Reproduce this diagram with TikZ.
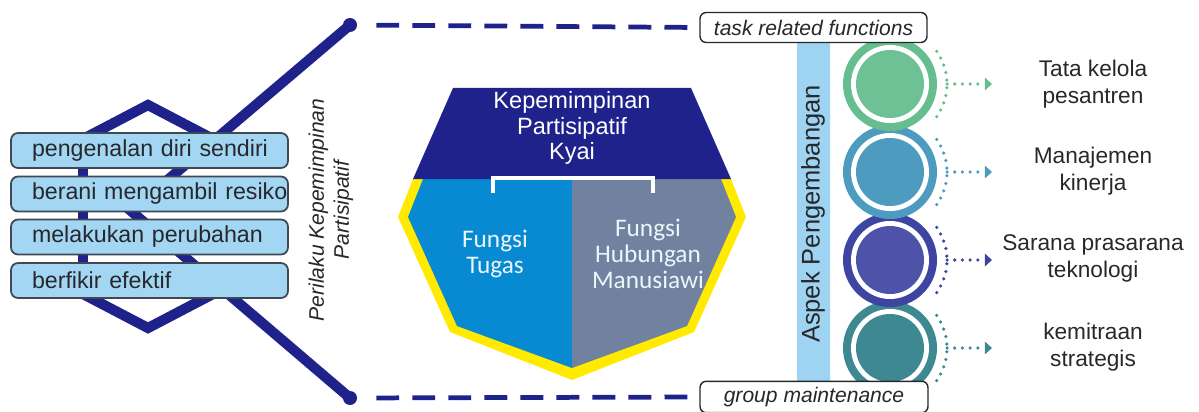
\documentclass[tikz,border=0pt]{standalone}
\usepackage{fontspec}
\setmainfont{Liberation Sans}
\newfontfamily\fungsifont{Carlito}
\usetikzlibrary{arrows.meta,calc}

\definecolor{kyaiNavy}{RGB}{32,34,140}
\definecolor{kyaiYellow}{RGB}{255,234,0}
\definecolor{tugasBlue}{RGB}{8,138,210}
\definecolor{hubunganGray}{RGB}{112,130,160}
\definecolor{sikapBlue}{RGB}{162,214,243}
\definecolor{sikapLine}{RGB}{64,72,82}
\definecolor{barBlue}{RGB}{158,212,241}
\definecolor{textDark}{RGB}{38,40,44}
\definecolor{aspekGreen}{RGB}{102,190,142}
\definecolor{aspekBlue}{RGB}{78,155,192}
\definecolor{aspekNavy}{RGB}{62,68,162}
\definecolor{aspekTeal}{RGB}{62,136,146}

\tikzset{
	kyaiLine/.style={line width=5.8pt, color=kyaiNavy},
	dashLine/.style={line width=2.7pt, color=kyaiNavy, dash pattern=on 13pt off 7.5pt},
	sikapBox/.style={draw=sikapLine, line width=1pt, fill=sikapBlue, rounded corners=4pt,
		text=textDark, font=\fontsize{13.2}{16}\selectfont, text width=4.7cm, align=left,
		inner xsep=0.42cm, inner ysep=0pt, minimum height=0.7cm},
	tagBox/.style={draw=textDark, line width=0.8pt, fill=white, rounded corners=3.5pt,
		font=\itshape\fontsize{12}{14}\selectfont, text=textDark, minimum height=0.6cm},
	aspekLabel/.style={align=center, text=textDark, font=\fontsize{12.9}{15.3}\selectfont},
	fungsiText/.style={align=center, text=white!92!tugasBlue, font=\fungsifont\fontsize{14.4}{15}\selectfont},
	dotLine/.style={line width=2pt, line cap=round, dash pattern=on 0pt off 4.4pt},
}

\begin{document}
\begin{tikzpicture}[x=0.02cm, y=-0.02cm]
	\useasboundingbox (0,0) rectangle (1199,412);
	
	%% left: lines behind the boxes
	\coordinate (dTop) at (350,25);
	\coordinate (dBot) at (350,398);
	\draw[kyaiLine] (dTop) -- (131,211) -- (dBot);
	\draw[kyaiLine] (83,139) -- (148,105) -- (213,139);
	\draw[kyaiLine] (83,137) -- (83,296);
	\draw[kyaiLine] (83,294) -- (148,328) -- (213,294);
	\fill[kyaiNavy] (dTop) circle (7);
	\fill[kyaiNavy] (dBot) circle (7);
	
	\node[sikapBox] (diri) at (149.5,150.5) {\mbox{pengenalan diri sendiri}};
	\node[sikapBox] (resiko) at (149.5,194) {\mbox{berani mengambil resiko}};
	\node[sikapBox] (ubah) at (149.5,237) {\mbox{melakukan perubahan}};
	\node[sikapBox] (efektif) at (149.5,280.5) {\mbox{berfikir efektif}};
	
	\node[rotate=90, align=center, text=textDark, font=\itshape\fontsize{12}{14.2}\selectfont] (perilaku) at (331,210) {Perilaku Kepemimpinan\\Partisipatif};
	
	%% octagon
	\fill[kyaiYellow] (413,179) -- (398,217) -- (450,332) -- (572,380) -- (694,332) -- (746,217) -- (731,179) -- cycle;
	\fill[tugasBlue] (572,179) -- (423,179) -- (408,217) -- (457,326) -- (572,368) -- cycle;
	\fill[hubunganGray] (572,179) -- (721,179) -- (736,217) -- (687,326) -- (572,368) -- cycle;
	\fill[kyaiNavy] (413,179) -- (453,88) -- (691,88) -- (731,179) -- cycle;
	\draw[white, line width=2.3pt] (493,193) -- (493,178) -- (653,178) -- (653,193);
	
	\node[align=center, text=white, font=\fontsize{13.4}{14.5}\selectfont] (kyai) at (572,128) {Kepemimpinan\\Partisipatif\\Kyai};
	\node[fungsiText] (tugas) at (495,254) {Fungsi\\Tugas};
	\node[fungsiText] (hubungan) at (648,254) {Fungsi\\Hubungan\\Manusiawi};
	
	%% right: bar and circles
	\fill[barBlue, rounded corners=3pt] (797,38) rectangle (830,388);
	\node[rotate=90, text=textDark, font=\fontsize{14.5}{17}\selectfont] (aspek) at (813,214) {Aspek Pengembangan};
	
	\coordinate (c1) at (890,84);
	\coordinate (c2) at (890,172);
	\coordinate (c3) at (890,260);
	\coordinate (c4) at (890,348);
	
	\fill[aspekTeal] (c4) circle (47);
	\fill[white] (c4) circle (39);
	\fill[aspekTeal] (c4) circle (34);
	
	\fill[aspekNavy] (c3) circle (47);
	\fill[white] (c3) circle (39);
	\fill[aspekNavy!92!white] (c3) circle (34);
	
	\fill[aspekBlue] (c2) circle (47);
	\fill[white] (c2) circle (39);
	\fill[aspekBlue] (c2) circle (34);
	
	\fill[aspekGreen] (c1) circle (47);
	\fill[white] (c1) circle (39);
	\fill[aspekGreen!95!white] (c1) circle (34);
	
	\draw[dotLine, aspekGreen] (c1) ++(-35:57) arc[start angle=-35, end angle=35, radius=57];
	\draw[dotLine, aspekBlue] (c2) ++(-35:57) arc[start angle=-35, end angle=35, radius=57];
	\draw[dotLine, aspekNavy] (c3) ++(-35:57) arc[start angle=-35, end angle=35, radius=57];
	\draw[dotLine, aspekTeal] (c4) ++(-35:57) arc[start angle=-35, end angle=35, radius=57];
	
	\draw[dotLine, aspekGreen, -{Triangle[length=4pt, width=7pt]}] ($(c1)+(57,0)$) -- ++(45,0);
	\draw[dotLine, aspekBlue, -{Triangle[length=4pt, width=7pt]}] ($(c2)+(57,0)$) -- ++(45,0);
	\draw[dotLine, aspekNavy, -{Triangle[length=4pt, width=7pt]}] ($(c3)+(57,0)$) -- ++(45,0);
	\draw[dotLine, aspekTeal, -{Triangle[length=4pt, width=7pt]}] ($(c4)+(57,0)$) -- ++(45,0);
	
	\node[aspekLabel] (tata) at (1093,84) {Tata kelola\\pesantren};
	\node[aspekLabel] (kinerja) at (1093,171) {Manajemen\\kinerja};
	\node[aspekLabel] (sarana) at (1093,258) {Sarana prasarana\\teknologi};
	\node[aspekLabel] (mitra) at (1093,347) {kemitraan\\strategis};
	
	%% top and bottom tags
	\node[tagBox, minimum width=4.54cm] (task) at (813.5,27.5) {task related functions};
	\node[tagBox, minimum width=4.56cm] (group) at (814,397) {group maintenance};
	\draw[dashLine, shorten <=15pt, shorten >=6.8pt] (dTop) -- (task.west);
	\draw[dashLine, shorten <=15pt, shorten >=6.8pt] (dBot) -- (group.west);
\end{tikzpicture}
\end{document}
